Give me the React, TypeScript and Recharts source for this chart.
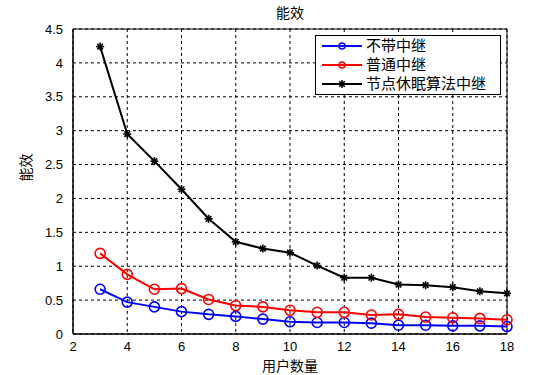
import React from 'react';
import {
  LineChart,
  Line,
  XAxis,
  YAxis,
  CartesianGrid,
  ReferenceArea,
  Label,
} from 'recharts';

const users = [3, 4, 5, 6, 7, 8, 9, 10, 11, 12, 13, 14, 15, 16, 17, 18];
const noRelay = [0.66, 0.47, 0.4, 0.33, 0.29, 0.26, 0.22, 0.18, 0.17, 0.17, 0.16, 0.13, 0.13, 0.12, 0.12, 0.11];
const normalRelay = [1.19, 0.88, 0.66, 0.67, 0.51, 0.42, 0.4, 0.35, 0.32, 0.32, 0.28, 0.29, 0.25, 0.24, 0.23, 0.21];
const sleepRelay = [4.24, 2.95, 2.55, 2.135, 1.7, 1.36, 1.26, 1.2, 1.01, 0.83, 0.83, 0.73, 0.72, 0.69, 0.63, 0.6];
const xTicks = [2, 4, 6, 8, 10, 12, 14, 16, 18];
const yTicks = [0, 0.5, 1, 1.5, 2, 2.5, 3, 3.5, 4, 4.5];

const seriesNames = ['不带中继', '普通中继', '节点休眠算法中继'];
const seriesColors = ['#0000ff', '#ff0000', '#000000'];

const data = users.map((u, i) => ({
  u,
  a: noRelay[i],
  b: normalRelay[i],
  c: sleepRelay[i],
}));

const CJK = '"Noto Sans CJK SC", "Liberation Sans", sans-serif';
const NUM = '"Liberation Sans", Arial, sans-serif';

// MATLAB '*' marker
function Star(props: any) {
  const { cx, cy } = props;
  if (cx == null || cy == null) return null;
  const r = 4;
  const d = 2.8;
  return (
    <g stroke="#000" strokeWidth={1.6}>
      <line x1={cx - r} y1={cy} x2={cx + r} y2={cy} />
      <line x1={cx} y1={cy - r} x2={cx} y2={cy + r} />
      <line x1={cx - d} y1={cy - d} x2={cx + d} y2={cy + d} />
      <line x1={cx - d} y1={cy + d} x2={cx + d} y2={cy - d} />
    </g>
  );
}

function Circle(color: string) {
  return (props: any) => {
    const { cx, cy } = props;
    if (cx == null || cy == null) return null;
    return <circle cx={cx} cy={cy} r={5} fill="none" stroke={color} strokeWidth={1.6} />;
  };
}

function LegendBox() {
  return (
    <svg width={187} height={60} style={{ display: 'block' }}>
      <rect x={0.5} y={0.5} width={185} height={59} fill="#fff" stroke="#000" />
      {seriesNames.map((name, i) => {
        const y = 11 + i * 19;
        return (
          <g key={name}>
            <line x1={7} y1={y} x2={47} y2={y} stroke={seriesColors[i]} strokeWidth={2} />
            {i < 2 ? (
              <circle cx={27} cy={y} r={3} fill="none" stroke={seriesColors[i]} strokeWidth={1.5} />
            ) : (
              <Star cx={27} cy={y} />
            )}
            <text x={51} y={y + 5} fontFamily={CJK} fontSize={15} fill="#000">
              {name}
            </text>
          </g>
        );
      })}
    </svg>
  );
}

export default function App() {
  return (
    <div style={{ position: 'absolute', left: 0, top: 0, width: 560, height: 375, background: '#fff' }}>
      <LineChart
        width={560}
        height={375}
        data={data}
        margin={{ top: 29, right: 53, left: 0, bottom: 0 }}
      >
        <CartesianGrid
          strokeDasharray="3 3"
          stroke="#000"
          strokeWidth={1}
          horizontalValues={yTicks}
          verticalValues={xTicks}
        />
        <XAxis
          dataKey="u"
          type="number"
          domain={[2, 18]}
          ticks={xTicks}
          height={41}
          tickLine={false}
          axisLine={{ stroke: '#000' }}
          tick={{ fill: '#000', fontSize: 13, fontFamily: NUM }}
          tickMargin={2}
        >
          <Label value="用户数量" position="insideBottom" offset={4} fill="#000" fontSize={14} fontFamily={CJK} />
        </XAxis>
        <YAxis
          type="number"
          domain={[0, 4.5]}
          ticks={yTicks}
          width={73}
          tickLine={false}
          axisLine={{ stroke: '#000' }}
          tick={{ fill: '#000', fontSize: 13, fontFamily: NUM }}
          tickMargin={4}
          tickFormatter={(v: number) => String(v)}
        >
          <Label value="能效" angle={-90} position="insideLeft" offset={26} fill="#000" fontSize={14} fontFamily={CJK} />
        </YAxis>
        <ReferenceArea x1={2} x2={18} y1={0} y2={4.5} fill="none" stroke="#000" strokeWidth={1} ifOverflow="visible" />
        <Line
          dataKey="a"
          name={seriesNames[0]}
          stroke={seriesColors[0]}
          strokeWidth={2}
          dot={Circle(seriesColors[0])}
          isAnimationActive={false}
        />
        <Line
          dataKey="b"
          name={seriesNames[1]}
          stroke={seriesColors[1]}
          strokeWidth={2}
          dot={Circle(seriesColors[1])}
          isAnimationActive={false}
        />
        <Line
          dataKey="c"
          name={seriesNames[2]}
          stroke={seriesColors[2]}
          strokeWidth={2}
          dot={Star}
          isAnimationActive={false}
        />
        <text x={290} y={18} textAnchor="middle" fontFamily={CJK} fontSize={14} fill="#000">
          能效
        </text>
      </LineChart>
      <div style={{ position: 'absolute', left: 315, top: 35 }}>
        <LegendBox />
      </div>
    </div>
  );
}
